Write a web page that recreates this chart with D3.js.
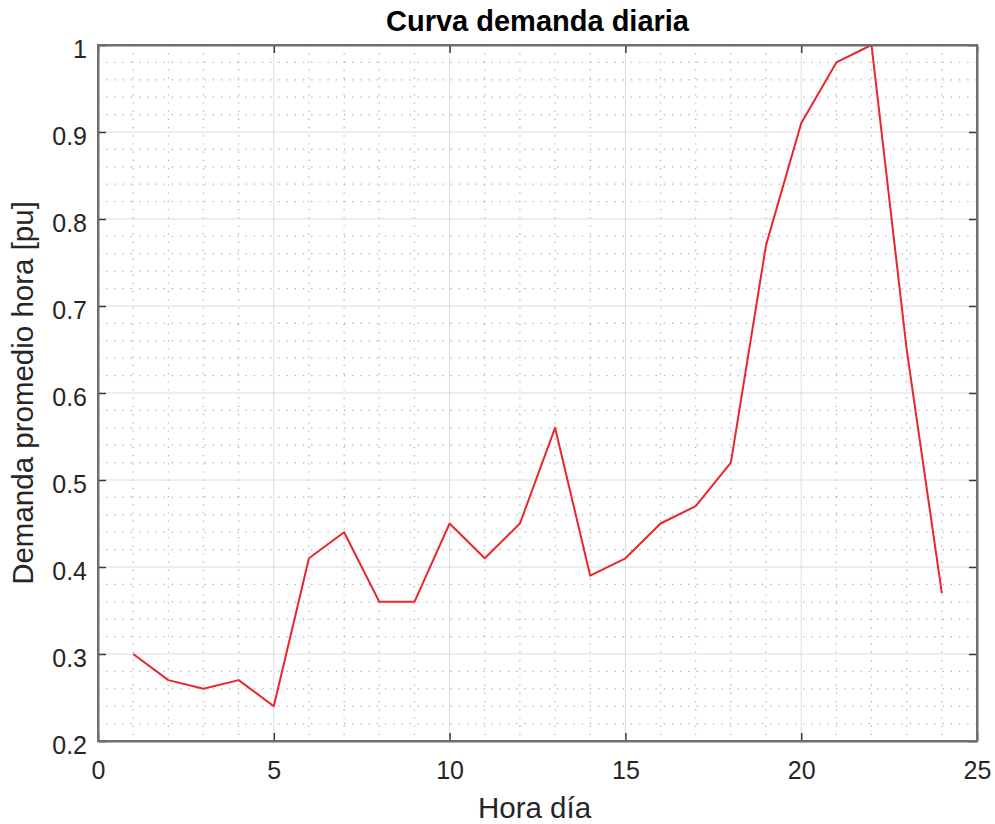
<!DOCTYPE html>
<html>
<head>
<meta charset="utf-8">
<script src="https://cdn.jsdelivr.net/npm/d3@7"></script>
<style>
  body { margin: 0; background: #fff; }
  text { font-family: "Liberation Sans", Arial, sans-serif; fill: #262626; }
</style>
</head>
<body>
<div id="chart"></div>
<script>
// horas del dia y demanda promedio (pu)
const horas = [1, 2, 3, 4, 5, 6, 7, 8, 9, 10, 11, 12, 13, 14, 15, 16, 17, 18, 19, 20, 21, 22, 23, 24];
const demanda = [0.30, 0.27, 0.26, 0.27, 0.24, 0.41, 0.44, 0.36, 0.36, 0.45, 0.41, 0.45,
                 0.56, 0.39, 0.41, 0.45, 0.47, 0.52, 0.77, 0.91, 0.98, 1.00, 0.65, 0.37];

const xTicks = [0, 5, 10, 15, 20, 25];
const yTicks = [0.2, 0.3, 0.4, 0.5, 0.6, 0.7, 0.8, 0.9, 1];
const xMinor = d3.range(0, 26, 1);
const yMinor = d3.range(0.2, 1.0001, 0.02);

const W = 995, H = 824;
const margin = { top: 45, right: 18, bottom: 83, left: 98 },
      width = W - margin.left - margin.right,
      height = H - margin.top - margin.bottom;

const svg = d3.select("#chart")
  .append("svg")
    .attr("width", W)
    .attr("height", H);

const g = svg.append("g")
    .attr("transform", `translate(${margin.left},${margin.top})`);

const x = d3.scaleLinear().domain([0, 25]).range([0, width]);
const y = d3.scaleLinear().domain([0.2, 1]).range([height, 0]);

// grid menor punteado
g.append("g").selectAll("line")
  .data(xMinor.filter(d => d % 5 !== 0))
  .join("line")
    .attr("x1", d => x(d)).attr("x2", d => x(d))
    .attr("y1", 0).attr("y2", height)
    .attr("stroke", "#a8a8a8")
    .attr("stroke-width", 1.2)
    .attr("stroke-dasharray", "1.2 7");

g.append("g").selectAll("line")
  .data(yMinor.filter(d => Math.abs(Math.round(d * 10) - d * 10) > 1e-6))
  .join("line")
    .attr("x1", 0).attr("x2", width)
    .attr("y1", d => y(d)).attr("y2", d => y(d))
    .attr("stroke", "#a8a8a8")
    .attr("stroke-width", 1.2)
    .attr("stroke-dasharray", "1.2 7");

// grid mayor
g.append("g").selectAll("line")
  .data(xTicks)
  .join("line")
    .attr("x1", d => x(d)).attr("x2", d => x(d))
    .attr("y1", 0).attr("y2", height)
    .attr("stroke", "#dcdcdc");

g.append("g").selectAll("line")
  .data(yTicks)
  .join("line")
    .attr("x1", 0).attr("x2", width)
    .attr("y1", d => y(d)).attr("y2", d => y(d))
    .attr("stroke", "#dcdcdc");

// curva
const linea = d3.line()
  .x((d, i) => x(horas[i]))
  .y(d => y(d));

g.append("path")
  .datum(demanda)
  .attr("fill", "none")
  .attr("stroke", "#e8262c")
  .attr("stroke-width", 2)
  .attr("stroke-linejoin", "round")
  .attr("d", linea);

// ejes (ticks hacia dentro, caja completa)
const tickLen = 8;
const axisColor = "#6f6f6f";

const xAxisB = g.append("g")
  .attr("transform", `translate(0,${height})`)
  .call(d3.axisBottom(x).tickValues(xTicks).tickSizeInner(-tickLen).tickSizeOuter(0).tickPadding(20));
const xAxisT = g.append("g")
  .call(d3.axisTop(x).tickValues(xTicks).tickSizeInner(-tickLen).tickSizeOuter(0).tickFormat(""));
const yAxisL = g.append("g")
  .call(d3.axisLeft(y).tickValues(yTicks).tickSizeInner(-tickLen).tickSizeOuter(0).tickPadding(11)
    .tickFormat(d => d3.format("")(+d.toFixed(1))));
const yAxisR = g.append("g")
  .attr("transform", `translate(${width},0)`)
  .call(d3.axisRight(y).tickValues(yTicks).tickSizeInner(-tickLen).tickSizeOuter(0).tickFormat(""));

[xAxisB, xAxisT, yAxisL, yAxisR].forEach(a => {
  a.select(".domain").attr("stroke", axisColor).attr("stroke-width", 2);
  a.selectAll(".tick line").attr("stroke", "#3a3a3a").attr("stroke-width", 1.5);
  a.selectAll(".tick text")
    .style("font-family", "'Liberation Sans', Arial, sans-serif")
    .style("font-size", "25px")
    .attr("fill", "#262626");
});
yAxisL.selectAll(".tick text").attr("dy", "0.5em");
xAxisB.selectAll(".tick text").attr("dy", "0.71em");

// caja
g.append("rect")
  .attr("width", width).attr("height", height)
  .attr("fill", "none")
  .attr("stroke", axisColor)
  .attr("stroke-width", 2);

// titulo y etiquetas
svg.append("text")
  .attr("x", margin.left + width / 2)
  .attr("y", 31)
  .attr("text-anchor", "middle")
  .style("font-size", "29px")
  .style("font-weight", "bold")
  .style("fill", "#000")
  .text("Curva demanda diaria");

svg.append("text")
  .attr("x", margin.left + width / 2 - 3)
  .attr("y", 818)
  .attr("text-anchor", "middle")
  .style("font-size", "29.5px")
  .text("Hora día");

svg.append("text")
  .attr("transform", `translate(33,${margin.top + height / 2}) rotate(-90)`)
  .attr("text-anchor", "middle")
  .style("font-size", "29.5px")
  .text("Demanda promedio hora [pu]");
</script>
</body>
</html>
